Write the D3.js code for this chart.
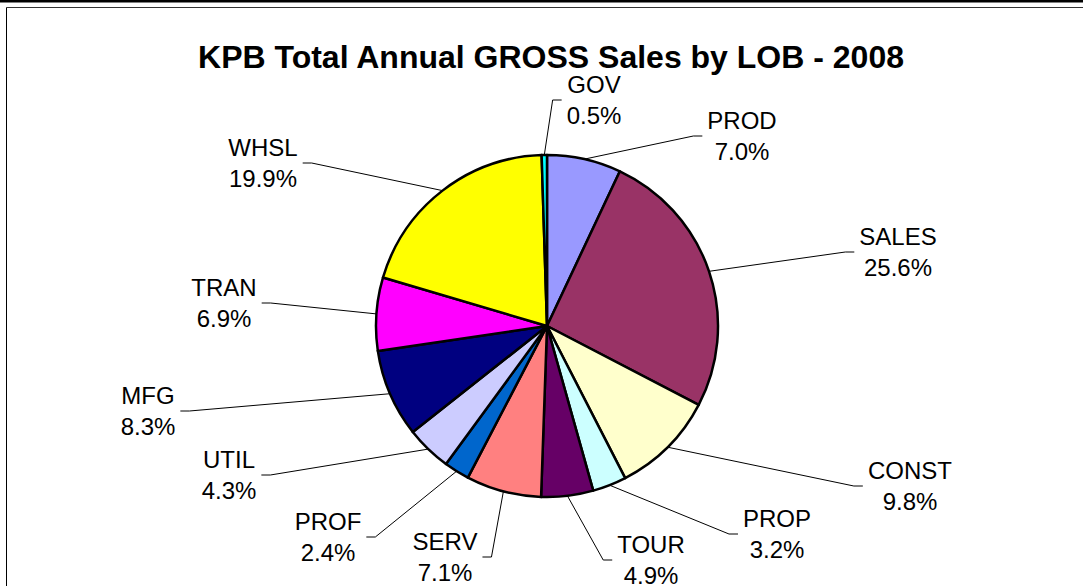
<!DOCTYPE html>
<html>
<head>
<meta charset="utf-8">
<script src="https://cdn.jsdelivr.net/npm/d3@7"></script>
<style>
  body { margin: 0; background: #fff; }
  svg { display: block; font-family: Arial, "Liberation Sans", sans-serif; }
</style>
</head>
<body>
<div id="chart"></div>
<script>
//Sets dimensions of SVG arena
var width = 1083;
var height = 586;

//Chart data (clockwise from 12 o'clock)
var categories = ["PROD", "SALES", "CONST", "PROP", "TOUR", "SERV", "PROF", "UTIL", "MFG", "TRAN", "WHSL", "GOV"];
var shares = [7.0, 25.6, 9.8, 3.2, 4.9, 7.1, 2.4, 4.3, 8.3, 6.9, 19.9, 0.5];
var colors = ["#9999ff", "#993366", "#ffffcc", "#ccffff", "#660066", "#ff8080", "#0066cc", "#ccccff", "#000080", "#ff00ff", "#ffff00", "#00ffff"];
var title = "KPB Total Annual GROSS Sales by LOB - 2008";

//Label placement (text centre x, first baseline y, side of leader line)
var labelX = [742, 898, 910, 777, 651, 445, 328, 229, 148, 224, 263, 594];
var labelY = [129, 245, 479, 527, 553, 550, 530, 468, 404, 296, 156, 93];
var labelSide = ["r", "r", "r", "r", "r", "l", "l", "l", "l", "l", "l", "r"];

var cx = 547, cy = 326, radius = 171;
var lineGap = 31;

var svg = d3.select("#chart").append("svg")
	.attr("width", width)
	.attr("height", height);

//Frame
svg.append("rect").attr("x", 0).attr("y", 0).attr("width", width).attr("height", 2.5).attr("fill", "#000");
svg.append("line").attr("x1", 6.5).attr("y1", 7.5).attr("x2", width).attr("y2", 7.5)
	.attr("stroke", "#333").attr("stroke-width", 1);
svg.append("line").attr("x1", 6.5).attr("y1", 7.5).attr("x2", 6.5).attr("y2", height)
	.attr("stroke", "#000").attr("stroke-width", 1);

//Title
svg.append("text")
	.attr("x", 551)
	.attr("y", 68)
	.attr("text-anchor", "middle")
	.attr("font-size", 32)
	.attr("font-weight", "bold")
	.text(title);

var data = categories.map(function(c, i) { return {name: c, value: shares[i], idx: i}; });

var pie = d3.pie().sort(null).value(function(d) { return d.value; });
var arc = d3.arc().innerRadius(0).outerRadius(radius);
var arcs = pie(data);

var g = svg.append("g").attr("transform", "translate(" + cx + "," + cy + ")");

g.selectAll("path")
	.data(arcs)
	.enter()
	.append("path")
	.attr("d", arc)
	.attr("fill", function(d) { return colors[d.data.idx]; })
	.attr("stroke", "#000")
	.attr("stroke-width", 2.5)
	.attr("stroke-linejoin", "round");

//Labels
var fmt = d3.format(".1f");
var labels = svg.append("g").attr("font-size", 24).attr("fill", "#000");
var leaders = svg.append("g");

arcs.forEach(function(d) {
	var i = d.data.idx;
	var t = labels.append("text")
		.attr("text-anchor", "middle");
	t.append("tspan").attr("x", labelX[i]).attr("y", labelY[i]).text(d.data.name);
	t.append("tspan").attr("x", labelX[i]).attr("y", labelY[i] + lineGap).text(fmt(d.data.value) + "%");

	var w = t.node().getBBox().width;
	var mid = (d.startAngle + d.endAngle) / 2;
	var px = cx + radius * Math.sin(mid);
	var py = cy - radius * Math.cos(mid);
	var ly = labelY[i] + 7;
	var endX, elbowX;
	if (labelSide[i] === "r") {
		endX = labelX[i] - w / 2 - 5;
		elbowX = endX - 9;
	} else {
		endX = labelX[i] + w / 2 + 5;
		elbowX = endX + 9;
	}
	leaders.append("polyline")
		.attr("points", [[px, py], [elbowX, ly], [endX, ly]].map(function(p) { return p.join(","); }).join(" "))
		.attr("fill", "none")
		.attr("stroke", "#000")
		.attr("stroke-width", 1);
});
</script>
</body>
</html>
